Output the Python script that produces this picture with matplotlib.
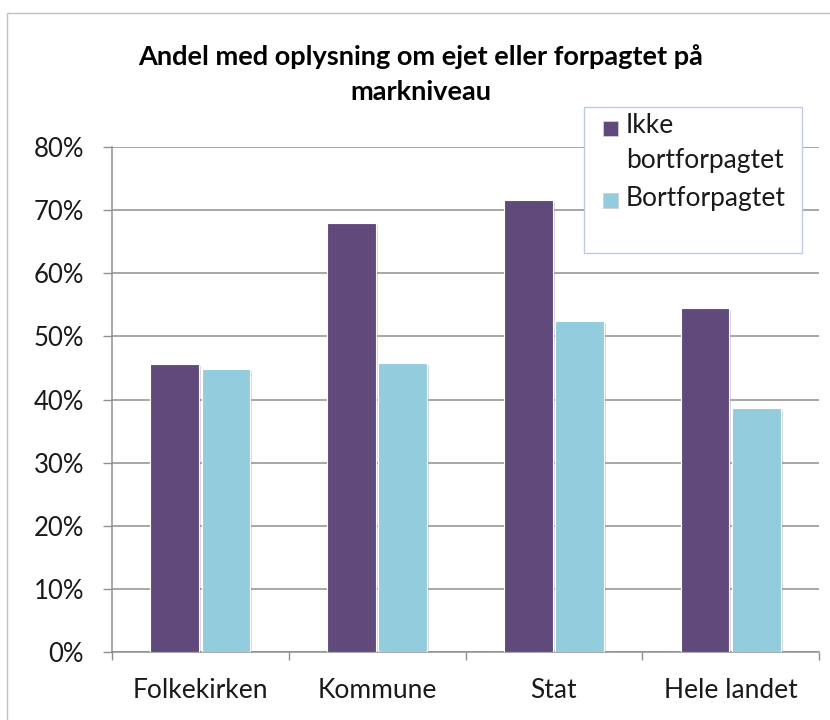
import matplotlib
matplotlib.use("Agg")
import matplotlib.pyplot as plt
import matplotlib.patheffects as pe
from matplotlib.patches import Rectangle
from matplotlib.ticker import FixedLocator, PercentFormatter
import numpy as np

plt.rcParams['font.family'] = ['Lato', 'DejaVu Sans']

title = "Andel med oplysning om ejet eller forpagtet på\nmarkniveau"
categories = ["Folkekirken", "Kommune", "Stat", "Hele landet"]
series_names = ["Ikke\nbortforpagtet", "Bortforpagtet"]
ikke_bortforpagtet = [45.6, 67.9, 71.6, 54.5]
bortforpagtet = [44.8, 45.8, 52.5, 38.7]
yticks = [0, 10, 20, 30, 40, 50, 60, 70, 80]
colors = ["#604A7B", "#93CDDD"]

W, H = 830, 720
fig = plt.figure(figsize=(W / 100, H / 100), dpi=100)
fig.patch.set_facecolor("white")

# chart area border (partially cropped in reference)
fig.patches.append(Rectangle((7 / W, -0.05), 1.2, 1 - 13 / H + 0.05,
                             transform=fig.transFigure, fill=False,
                             edgecolor="#c0c0c0", linewidth=1.0))

ax = fig.add_axes([112 / W, 68 / H, (819 - 112) / W, (652 - 147) / H])
ax.set_xlim(0, len(categories))
ax.set_ylim(0, 80)

x = np.arange(len(categories)) + 0.5
bw = 0.275
off = 0.145
shadow = [pe.SimplePatchShadow(offset=(1.5, -1.5), shadow_rgbFace="#808080", alpha=0.3), pe.Normal()]
for vals, dx, c, name in [(ikke_bortforpagtet, -off, colors[0], series_names[0]),
                          (bortforpagtet, off, colors[1], series_names[1])]:
    bars = ax.bar(x + dx, vals, width=bw, color=c, edgecolor="white", linewidth=0.8,
                  label=name, zorder=3)
    for b in bars:
        b.set_path_effects(shadow)

ax.set_axisbelow(True)
ax.yaxis.set_major_locator(FixedLocator(yticks))
ax.yaxis.set_major_formatter(PercentFormatter(decimals=0))
ax.grid(axis="y", color="#8f8f8f", linewidth=1.1, zorder=0)
ax.grid(axis="x", visible=False)

ax.xaxis.set_major_locator(FixedLocator(np.arange(len(categories) + 1)))
ax.xaxis.set_major_formatter(plt.NullFormatter())
ax.xaxis.set_minor_locator(FixedLocator(x))
ax.set_xticklabels(categories, minor=True)

ax.tick_params(axis="x", which="major", direction="out", length=5.8, width=1.0, color="#8f8f8f")
ax.tick_params(axis="x", which="minor", length=0, pad=19, labelsize=19, labelcolor="#1a1a1a")
ax.tick_params(axis="y", which="major", direction="out", length=6.5, width=1.0, color="#8f8f8f",
               pad=13.5, labelsize=18.5, labelcolor="#1a1a1a")

for s in ["top", "right"]:
    ax.spines[s].set_visible(False)
for s in ["left", "bottom"]:
    ax.spines[s].set_color("#8f8f8f")
    ax.spines[s].set_linewidth(1.1)

fig.text(421 / W, 1 - 44 / H, title, ha="center", va="top", fontsize=19.5,
         fontweight="bold", color="black", linespacing=1.56)

# legend box
fig.patches.append(Rectangle((584 / W, 1 - 253 / H), 218 / W, 146 / H,
                             transform=fig.transFigure, facecolor="white",
                             edgecolor="#b9cde5", linewidth=1.0, zorder=5))
sq = 15
sq_tops = [121, 193]
txt_tops = [113, 186]
for name, c, st, tt in zip(series_names, colors, sq_tops, txt_tops):
    fig.patches.append(Rectangle((603 / W, 1 - (st + sq) / H), sq / W, sq / H,
                                 transform=fig.transFigure, facecolor=c,
                                 edgecolor="#d0d0d0", linewidth=0.6, zorder=6))
    fig.text(626 / W, 1 - tt / H, name, ha="left", va="top", fontsize=19,
             color="#1a1a1a", linespacing=1.5, zorder=7)

fig.savefig("out.png", dpi=100)
